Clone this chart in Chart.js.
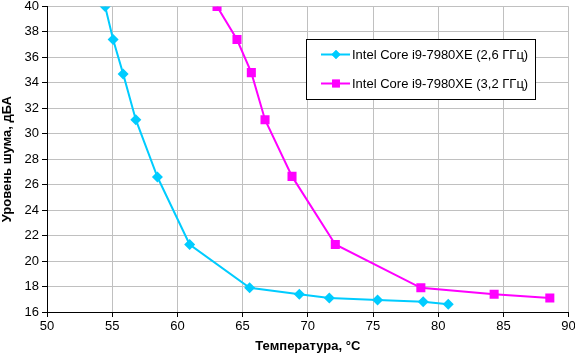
<!DOCTYPE html>
<html><head><meta charset="utf-8">
<script src="https://cdn.jsdelivr.net/npm/chart.js@4/dist/chart.umd.min.js"></script>
<style>html,body{margin:0;padding:0;background:#fff}#w{width:575px;height:355px}</style>
</head><body><div id="w"><canvas id="c" width="575" height="355"></canvas></div>
<script>
const series1Name = 'Intel Core i9-7980XE (2,6 ГГц)';
const series2Name = 'Intel Core i9-7980XE (3,2 ГГц)';
const series1X = [54.46, 55.07, 55.84, 56.81, 58.47, 60.94, 65.54, 69.35, 71.65, 75.35, 78.85, 80.77];
const series1Y = [40.0, 37.4, 34.7, 31.1, 26.6, 21.3, 17.9, 17.4, 17.1, 16.95, 16.8, 16.6];
const series2X = [63.04, 64.57, 65.67, 66.72, 68.79, 72.11, 78.67, 84.29, 88.56];
const series2Y = [40.0, 37.4, 34.8, 31.1, 26.65, 21.3, 17.9, 17.4, 17.1];
const xTicks = [50, 55, 60, 65, 70, 75, 80, 85, 90];
const yTicks = [16, 18, 20, 22, 24, 26, 28, 30, 32, 34, 36, 38, 40];
const xTitle = 'Температура, °C';
const yTitle = 'Уровень шума, дБА';

const c1 = '#00CCFF', c2 = '#FF00FF';
const FONT = 'Liberation Sans, Arial, sans-serif';

const legendPlugin = {
  id: 'boxLegend',
  afterDraw(chart) {
    const ctx = chart.ctx;
    ctx.save();
    const x0 = 306.5, y0 = 39.5, w = 229, h = 60;
    ctx.fillStyle = '#fff';
    ctx.fillRect(x0, y0, w, h);
    ctx.strokeStyle = '#000'; ctx.lineWidth = 1;
    ctx.strokeRect(x0, y0, w, h);
    const rows = [
      {name: series1Name, color: c1, style: 'rectRot', r: 4.5, y: 54.5},
      {name: series2Name, color: c2, style: 'rect', r: 5.5, y: 83.5}
    ];
    ctx.font = '13px ' + FONT;
    ctx.textBaseline = 'middle';
    rows.forEach(r => {
      ctx.strokeStyle = r.color; ctx.lineWidth = 2;
      ctx.beginPath(); ctx.moveTo(321, r.y); ctx.lineTo(350, r.y); ctx.stroke();
      ctx.fillStyle = r.color;
      Chart.helpers.drawPoint(ctx, {pointStyle: r.style, radius: r.r, borderWidth: 0}, 336, r.y);
      ctx.fill();
      ctx.fillStyle = '#000';
      ctx.fillText(r.name, 352, r.y + 1);
    });
    ctx.restore();
  }
};

new Chart(document.getElementById('c'), {
  type: 'scatter',
  data: {
    datasets: [
      { label: series1Name, data: series1X.map((x, i) => ({x, y: series1Y[i]})),
        showLine: true, borderColor: c1, backgroundColor: c1, borderWidth: 2,
        pointStyle: 'rectRot', pointRadius: 5.5, pointBorderWidth: 0, pointHoverRadius: 5.5 },
      { label: series2Name, data: series2X.map((x, i) => ({x, y: series2Y[i]})),
        showLine: true, borderColor: c2, backgroundColor: c2, borderWidth: 2,
        pointStyle: 'rect', pointRadius: 6.4, pointBorderWidth: 0, pointHoverRadius: 6.4 }
    ]
  },
  options: {
    responsive: false, animation: false, devicePixelRatio: 1,
    layout: { padding: { top: 5, right: 5, left: 0, bottom: 0 } },
    plugins: { legend: { display: false }, tooltip: { enabled: false } },
    scales: {
      x: {
        type: 'linear', min: 50, max: 90,
        afterBuildTicks: s => { s.ticks = xTicks.map(v => ({value: v})); },
        afterFit: s => { s.height = 43; s.paddingLeft = 0; s.paddingRight = 0; },
        grid: { color: '#C0C0C0', lineWidth: 1, tickLength: 5, tickColor: '#000' },
        border: { color: '#000', width: 1 },
        ticks: { color: '#000', font: { family: FONT, size: 13 }, padding: 2, maxRotation: 0 },
        title: { display: true, text: xTitle, color: '#000', font: { family: FONT, size: 13, weight: 'bold' }, padding: { top: 2, bottom: 1 } }
      },
      y: {
        type: 'linear', min: 16, max: 40,
        afterBuildTicks: s => { s.ticks = yTicks.map(v => ({value: v})); },
        afterFit: s => { s.width = 47; s.paddingTop = 0; s.paddingBottom = 0; },
        grid: { color: '#C0C0C0', lineWidth: 1, tickLength: 5, tickColor: '#000' },
        border: { color: '#000', width: 1 },
        ticks: { color: '#000', font: { family: FONT, size: 13 }, padding: 3 },
        title: { display: true, text: yTitle, color: '#000', font: { family: FONT, size: 13, weight: 'bold' }, padding: { top: 0, bottom: 2 } }
      }
    }
  },
  plugins: [legendPlugin]
});
</script></body></html>
